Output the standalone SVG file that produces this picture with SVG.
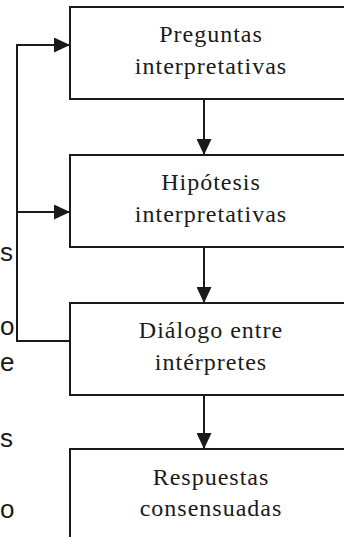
<svg xmlns="http://www.w3.org/2000/svg" width="344" height="537" viewBox="0 0 344 537">
<style>
.box{fill:#fff;stroke:#1a1a1a;stroke-width:2}
.lbl{font-family:"Liberation Serif","Times New Roman",serif;font-size:24px;letter-spacing:1px;fill:#1a1a1a;text-anchor:middle}
.edge{fill:none;stroke:#1a1a1a;stroke-width:2}
.frag{font-family:"Liberation Sans",Arial,sans-serif;font-size:26px;fill:#1a1a1a}
</style>
<defs>
<marker id="ah" markerUnits="userSpaceOnUse" markerWidth="16" markerHeight="15" refX="16" refY="7.5" orient="auto">
<path d="M0,0 L16,7.5 L0,15 z" fill="#1a1a1a"/>
</marker>
</defs>
<rect width="344" height="537" fill="#fff"/>
<g id="fragments">
<text class="frag" x="0" y="261">s</text>
<text class="frag" x="0" y="335">o</text>
<text class="frag" x="0" y="371">e</text>
<text class="frag" x="0" y="447">s</text>
<text class="frag" x="0" y="518">o</text>
</g>
<g id="connectors">
<path class="edge" d="M204,99 V155" marker-end="url(#ah)"/>
<path class="edge" d="M204,247 V303" marker-end="url(#ah)"/>
<path class="edge" d="M204,395 V449" marker-end="url(#ah)"/>
<path class="edge" d="M70,341 H17 V45 H70" marker-end="url(#ah)"/>
<path class="edge" d="M17,212 H70" marker-end="url(#ah)"/>
</g>
<g id="n1">
<rect class="box" x="70" y="7" width="290" height="92"/>
<text class="lbl" x="211" y="42">Preguntas</text>
<text class="lbl" x="211" y="74">interpretativas</text>
</g>
<g id="n2">
<rect class="box" x="70" y="155" width="290" height="92"/>
<text class="lbl" x="211" y="190">Hipótesis</text>
<text class="lbl" x="211" y="222">interpretativas</text>
</g>
<g id="n3">
<rect class="box" x="70" y="303" width="290" height="92"/>
<text class="lbl" x="211" y="338">Diálogo entre</text>
<text class="lbl" x="211" y="370">intérpretes</text>
</g>
<g id="n4">
<rect class="box" x="70" y="449" width="290" height="100"/>
<text class="lbl" x="211" y="485">Respuestas</text>
<text class="lbl" x="211" y="516">consensuadas</text>
</g>
</svg>
